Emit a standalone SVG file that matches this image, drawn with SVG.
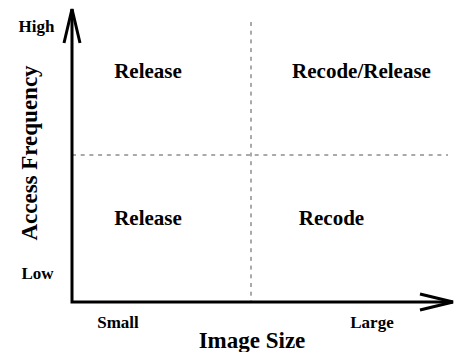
<svg xmlns="http://www.w3.org/2000/svg" width="455" height="352" viewBox="0 0 455 352">
<style>
text{font-family:"Liberation Serif","Times New Roman",serif;font-weight:bold;fill:#000}
.q{font-size:21px}
.t{font-size:17px}
.ax{font-size:23px}
.axis{stroke:#000;stroke-width:3;fill:none}
.dash{stroke:#555;stroke-width:1;stroke-dasharray:4,4.7;fill:none}
</style>
<rect width="455" height="352" fill="#fff"/>
<g id="connectors">
<line class="dash" x1="251" y1="22" x2="251" y2="302"/>
<line class="dash" x1="72" y1="155" x2="448" y2="155"/>
<path class="axis" d="M72,9 L72,302 L453,302"/>
<path class="axis" d="M64,43 L72,9 L80,43"/>
<path class="axis" d="M420,294 L453,302 L420,310"/>
</g>
<g id="q1"><text class="q" x="148" y="78" text-anchor="middle">Release</text></g>
<g id="q2"><text class="q" x="361.5" y="78" text-anchor="middle">Recode/Release</text></g>
<g id="q3"><text class="q" x="148" y="225" text-anchor="middle">Release</text></g>
<g id="q4"><text class="q" x="331.5" y="225" text-anchor="middle">Recode</text></g>
<g id="labels">
<text class="t" x="36.5" y="32" text-anchor="middle">High</text>
<text class="t" x="37.5" y="279" text-anchor="middle">Low</text>
<text class="t" x="118" y="328" text-anchor="middle">Small</text>
<text class="t" x="372" y="328" text-anchor="middle">Large</text>
<text class="ax" x="252" y="348" text-anchor="middle">Image Size</text>
<text class="ax" x="0" y="0" text-anchor="middle" transform="translate(37,153) rotate(-90)">Access Frequency</text>
</g>
</svg>
